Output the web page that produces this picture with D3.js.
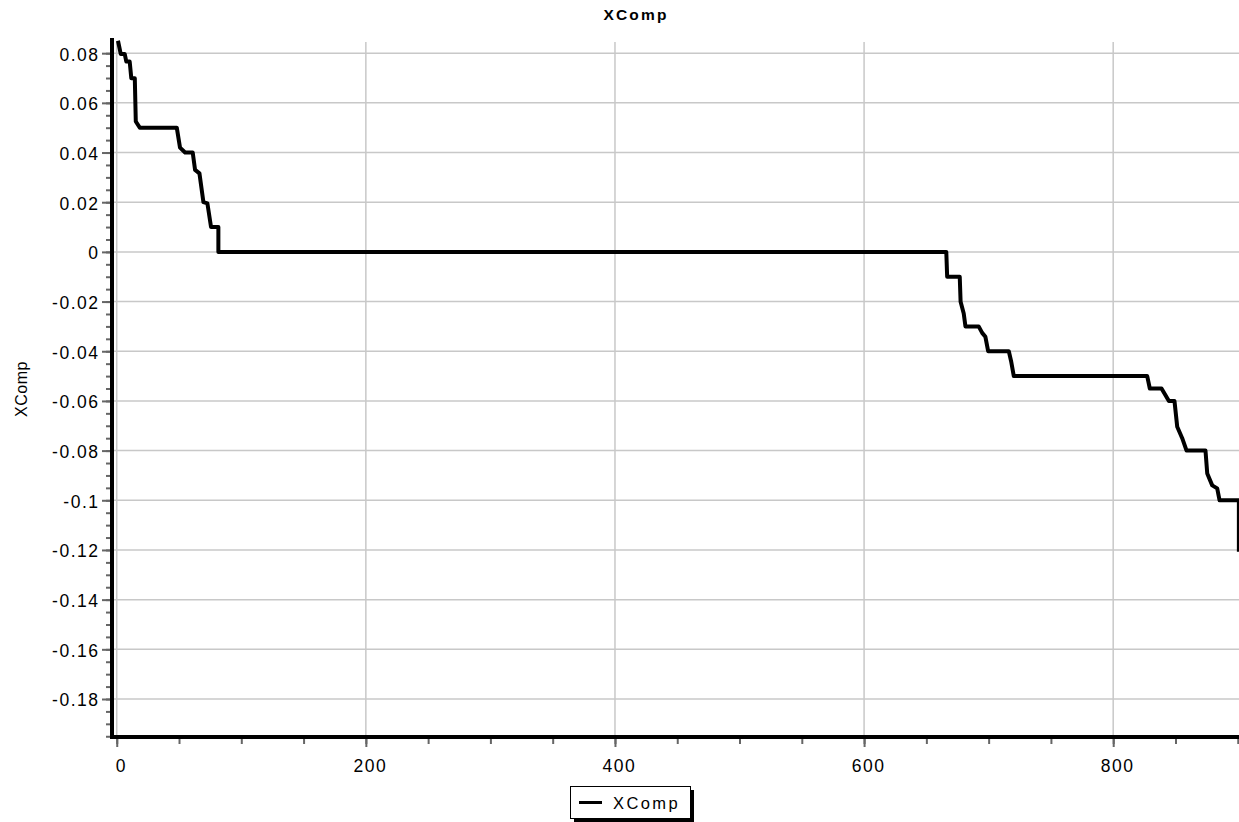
<!DOCTYPE html>
<html>
<head>
<meta charset="utf-8">
<script src="https://cdn.jsdelivr.net/npm/d3@7"></script>
<style>
  body { margin: 0; background: #fff; }
  text { font-family: "Liberation Sans", Arial, sans-serif; fill: #000; }
  .tick text { font-size: 17.5px; letter-spacing: 1.5px; }
  .grid line { stroke: #c8c8c8; stroke-width: 1.5; }
</style>
</head>
<body>
<svg id="chart" width="1239" height="822"></svg>
<script>
// Data (step trace of XComp)
var sampleX = [1.0, 3.2, 6.4, 7.7, 10.4, 11.7, 14.5, 15.3, 18.5, 48.2, 50.8, 54.9, 61, 62.9, 66.4, 69.6, 72.8, 75.7, 81.6, 81.6,
    666, 666.7, 676.8, 677.5, 680, 681.4, 692, 694.8, 697.4, 699.6, 716.2, 718, 720.2,
    827.3, 829.4, 838.8, 842, 844.7, 849.2, 851.4, 855.4, 858.9, 874.1, 875.5, 879.5, 883.5, 885.4, 900.9, 900.9];
var sampleY = [0.085, 0.0797, 0.0797, 0.0766, 0.0766, 0.0699, 0.0699, 0.0525, 0.05, 0.05, 0.042, 0.04, 0.04, 0.033, 0.0316, 0.02, 0.0195, 0.01, 0.01, 0,
    0, -0.01, -0.01, -0.0201, -0.0248, -0.03, -0.03, -0.0326, -0.0342, -0.04, -0.04, -0.0439, -0.05,
    -0.05, -0.055, -0.055, -0.0577, -0.06, -0.06, -0.0704, -0.075, -0.08, -0.08, -0.0892, -0.094, -0.0952, -0.1, -0.1, -0.1207];

var xTicks = [0, 200, 400, 600, 800];
var xMinor = [0, 50, 100, 150, 200, 250, 300, 350, 400, 450, 500, 550, 600, 650, 700, 750, 800, 850, 900];
var yTicks = [0.08, 0.06, 0.04, 0.02, 0, -0.02, -0.04, -0.06, -0.08, -0.1, -0.12, -0.14, -0.16, -0.18];
var yTickLabels = ["0.08", "0.06", "0.04", "0.02", "0", "-0.02", "-0.04", "-0.06", "-0.08", "-0.1", "-0.12", "-0.14", "-0.16", "-0.18"];
var yMinor = d3.range(-39, 17).map(function(k) { return k * 0.005; });

var seriesName = "XComp";

var svg = d3.select("#chart");

// Plot area
var plotLeft = 113, plotRight = 1239, plotTop = 42, plotBottom = 737;

var xScale = d3.scaleLinear().domain([-3, 901]).range([plotLeft, plotRight]);
var yScale = d3.scaleLinear().domain([-0.1953, 0.0845]).range([plotBottom, plotTop]);

// Gridlines
var grid = svg.append("g").attr("class", "grid");
grid.selectAll(".gx").data(xTicks).enter().append("line")
    .attr("x1", d => xScale(d)).attr("x2", d => xScale(d))
    .attr("y1", plotTop).attr("y2", plotBottom);
grid.selectAll(".gy").data(yTicks).enter().append("line")
    .attr("x1", plotLeft).attr("x2", plotRight)
    .attr("y1", d => yScale(d)).attr("y2", d => yScale(d));

// Line
svg.append("clipPath").attr("id", "plotClip")
  .append("rect")
    .attr("x", plotLeft).attr("y", plotTop - 2)
    .attr("width", plotRight - plotLeft).attr("height", plotBottom - plotTop + 2);

var points = sampleX.map((x, i) => [x, sampleY[i]]);
var line = d3.line()
    .x(d => xScale(d[0]))
    .y(d => yScale(d[1]));

svg.append("path")
    .datum(points)
    .attr("clip-path", "url(#plotClip)")
    .attr("d", line)
    .attr("fill", "none")
    .attr("stroke", "#000")
    .attr("stroke-width", 4)
    .attr("stroke-linejoin", "round");

// Minor ticks
var yMinorG = svg.append("g")
    .attr("transform", "translate(" + (plotLeft - 2) + ",0)")
    .call(d3.axisLeft(yScale).tickValues(yMinor).tickSize(5).tickFormat(""));
var xMinorG = svg.append("g")
    .attr("transform", "translate(0," + (plotBottom + 1) + ")")
    .call(d3.axisBottom(xScale).tickValues(xMinor).tickSize(6).tickFormat(""));

// Major axes
var yAxisG = svg.append("g")
    .attr("transform", "translate(" + (plotLeft - 2) + ",0)")
    .call(d3.axisLeft(yScale).tickValues(yTicks).tickSize(9).tickPadding(4)
        .tickFormat((d, i) => yTickLabels[i]));
var xAxisG = svg.append("g")
    .attr("transform", "translate(0," + (plotBottom + 1) + ")")
    .call(d3.axisBottom(xScale).tickValues(xTicks).tickSize(9).tickPadding(10)
        .tickFormat(d => String(d)));

[yMinorG, xMinorG, yAxisG, xAxisG].forEach(function(g) {
    g.select(".domain").remove();
    g.selectAll(".tick line").attr("stroke", "#666").attr("stroke-width", 2);
});
yAxisG.selectAll(".tick text").attr("dx", "1.5px").attr("dy", "0.4em");
xAxisG.selectAll(".tick text").attr("dx", "4px").attr("dy", "0.85em");

// Axis lines
svg.append("line")
    .attr("x1", plotLeft - 1).attr("x2", plotLeft - 1)
    .attr("y1", plotTop - 4).attr("y2", plotBottom + 2)
    .attr("stroke", "#000").attr("stroke-width", 4);
svg.append("line")
    .attr("x1", plotLeft - 3).attr("x2", plotRight)
    .attr("y1", plotBottom).attr("y2", plotBottom)
    .attr("stroke", "#000").attr("stroke-width", 4);

// Title and axis title
svg.append("text")
    .attr("x", 636).attr("y", 20)
    .attr("text-anchor", "middle")
    .style("font-size", "15.5px").style("font-weight", "bold").style("letter-spacing", "2.2px")
    .text(seriesName);
svg.append("text")
    .attr("transform", "translate(27,389)rotate(-90)")
    .attr("text-anchor", "middle")
    .style("font-size", "16px").style("letter-spacing", "0.5px")
    .text(seriesName);

// Legend
var legend = svg.append("g").attr("transform", "translate(570,786)");
legend.append("rect")
    .attr("x", 4).attr("y", 4).attr("width", 120).attr("height", 32)
    .attr("fill", "#000");
legend.append("rect")
    .attr("x", 0.5).attr("y", 0.5).attr("width", 120).attr("height", 32)
    .attr("fill", "#fff").attr("stroke", "#000").attr("stroke-width", 1);
legend.append("line")
    .attr("x1", 9).attr("x2", 32).attr("y1", 16.5).attr("y2", 16.5)
    .attr("stroke", "#000").attr("stroke-width", 3);
legend.append("text")
    .attr("x", 43).attr("y", 22.5)
    .style("font-size", "16.5px").style("letter-spacing", "2.4px")
    .text(seriesName);
</script>
</body>
</html>
